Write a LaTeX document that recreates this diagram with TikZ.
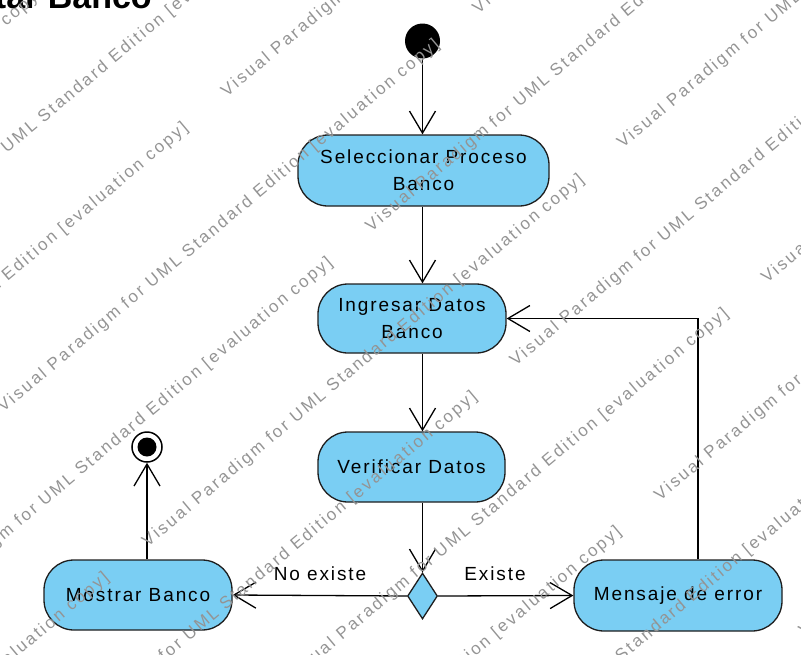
\documentclass[tikz,border=0pt]{standalone}
\usepackage{fontspec}
\setmainfont{Liberation Sans}
\newfontfamily\boxfont[LetterSpace=10]{Liberation Sans}
\newfontfamily\wmfont[LetterSpace=14]{Liberation Sans}
\usetikzlibrary{arrows.meta,shapes.geometric,calc}
\definecolor{actfill}{RGB}{122,206,243}
\definecolor{edgecol}{RGB}{30,30,30}
\tikzset{
 act/.style={draw=edgecol, line width=1.3pt, fill=actfill, rounded corners=30pt, align=center, font=\boxfont\fontsize{19}{27}\selectfont, inner sep=0pt},
 flow/.style={draw=black, line width=1.3pt, -{Straight Barb[length=22pt,width=26pt]}},
 lbl/.style={font=\boxfont\fontsize{19}{23}\selectfont, inner sep=0pt},
 wm/.style={anchor=west, rotate=40, inner sep=0pt, text=black!42, font=\wmfont\fontsize{17}{17}\selectfont},
}
\begin{document}
\begin{tikzpicture}[x=1pt,y=-1pt]
\useasboundingbox (0,0) rectangle (801,654);
\clip (0,0) rectangle (801,654);
\node[anchor=base east, font=\bfseries\fontsize{34}{34}\selectfont, inner sep=0pt] (title) at (152,8) {Consultar Banco};
% nodes
\node[circle, fill=black, minimum size=35pt, inner sep=0pt] (start) at (422.5,41) {};
\node[act, minimum width=251pt, minimum height=71pt] (sel) at (423.5,170.5) {Seleccionar Proceso\\Banco};
\node[act, minimum width=188pt, minimum height=69pt] (ing) at (412,318.5) {Ingresar Datos\\Banco};
\node[act, minimum width=187pt, minimum height=70pt] (ver) at (411.5,467) {Verificar Datos};
\node[diamond, draw=edgecol, line width=1.3pt, fill=actfill, minimum width=30pt, minimum height=46pt, inner sep=0pt] (dec) at (422.5,596) {};
\node[act, minimum width=188pt, minimum height=70pt] (mos) at (138,595) {Mostrar Banco};
\node[act, minimum width=208pt, minimum height=71pt] (men) at (678,595.5) {Mensaje de error};
\node[circle, draw=black, line width=1.5pt, fill=white, minimum size=30pt, inner sep=0pt] (fin) at (147,447) {};
\node[circle, fill=black, minimum size=19pt, inner sep=0pt] (finin) at (fin.center) {};
% labels
\node[lbl] (lno) at (320,574) {No existe};
\node[lbl] (lyes) at (495,574) {Existe};
% connectors
\draw[flow] (start) -- (start |- sel.north);
\draw[flow] (start |- sel.south) -- (start |- ing.north);
\draw[flow] (start |- ing.south) -- (start |- ver.north);
\draw[flow] (start |- ver.south) -- (dec.north);
\draw[flow] (dec.west) -- (mos.east);
\draw[flow] (dec.east) -- (men.west);
\draw[flow] (fin.south |- mos.north) -- (fin.south);
\draw[flow] ($(men.north)+(20,0)$) |- (ing.east);
% watermarks
\foreach \k in {-1,...,10} {
  \pgfmathsetmacro\cc{118+98*\k}
  \pgfmathsetmacro\bs{iseven(\k) ? -287+12*\k : 99+12*\k}
  \foreach \n in {-2,...,2} {
    \pgfmathsetmacro\ss{\bs+620*\n}
    \pgfmathsetmacro\xx{0.766*\ss+0.643*\cc}
    \pgfmathsetmacro\yy{-0.643*\ss+0.766*\cc}
    \node[wm] (w\k n\n) at (\xx,\yy) {Visual Paradigm for UML Standard Edition [evaluation copy]};
  }
}
\end{tikzpicture}
\end{document}
